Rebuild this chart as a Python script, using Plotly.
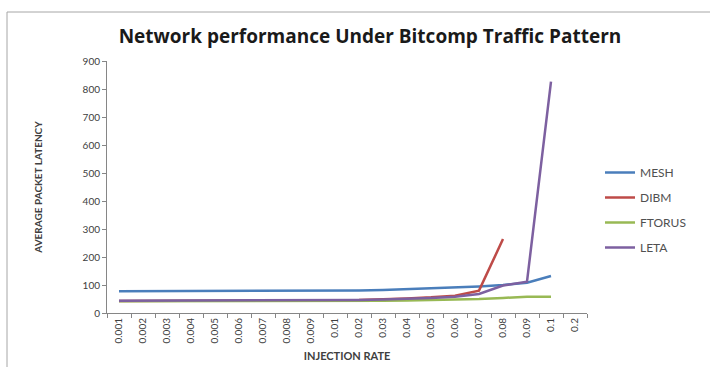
import plotly.graph_objects as go

# Injection-rate categories (kept as text so the labels read exactly as written)
rates = ["0.001", "0.002", "0.003", "0.004", "0.005", "0.006", "0.007", "0.008", "0.009",
         "0.01", "0.02", "0.03", "0.04", "0.05", "0.06", "0.07", "0.08", "0.09", "0.1", "0.2"]

# Average packet latency per topology (None = no measurement)
mesh   = [78, 78, 78, 78, 79, 79, 80, 79, 79, 79, 80, 82, 85, 90, 92, 95, 100, 108, 132, None]
dibm   = [43, 43, 43, 43, 44, 44, 44, 44, 44, 45, 46, 48, 52, 56, 62, 80, 264, None, None, None]
ftorus = [42, 42, 42, 42, 42, 43, 43, 43, 43, 43, 44, 44, 45, 46, 48, 50, 54, 58, 58, None]
leta   = [44, 44, 44, 44, 45, 45, 45, 45, 45, 45, 46, 48, 50, 54, 58, 68, 98, 112, 826, None]

y_ticks = list(range(0, 901, 100))

series = [
    ("MESH", mesh, "#4A7EBB"),
    ("DIBM", dibm, "#BE4B48"),
    ("FTORUS", ftorus, "#98B954"),
    ("LETA", leta, "#7D60A0"),
]

fig = go.Figure()
for name, vals, color in series:
    fig.add_trace(go.Scatter(
        x=rates, y=vals, name=name, mode="lines", legendgroup=name,
        line=dict(color=color, width=2.5),
        connectgaps=False,
    ))

W, H = 710, 367
L, R, T, B = 107, 123, 61, 54
pw, ph = W - L - R, H - T - B


def px_x(px):
    return (px - L) / pw


def px_y(py):
    return (H - B - py) / ph


fig.update_layout(
    width=W, height=H,
    margin=dict(l=L, r=R, t=T, b=B, autoexpand=False),
    paper_bgcolor="white", plot_bgcolor="white",
    font=dict(family="Lato, Liberation Sans, sans-serif", color="#404040"),
    title=dict(
        text="<b>Network performance Under Bitcomp Traffic Pattern</b>",
        font=dict(family="Open Sans, Lato, sans-serif", size=19, color="#1a1a1a"),
        x=px_x(370), xref="paper", xanchor="center",
        y=1 - 36 / H, yref="container", yanchor="middle",
    ),
    showlegend=True,
    legend=dict(
        x=px_x(600), y=px_y(210), xanchor="left", yanchor="middle",
        font=dict(size=12, color="#505050"),
        itemwidth=30, tracegroupgap=6,
        bgcolor="rgba(0,0,0,0)",
    ),
    xaxis=dict(
        type="category", categoryorder="array", categoryarray=rates,
        range=[-0.5, len(rates) - 0.5], automargin=False,
        tickangle=-90, tickfont=dict(size=10, color="#404040"),
        showline=True, linecolor="#868686", linewidth=1,
        ticks="outside", tickson="boundaries", ticklen=4, tickcolor="#868686",
        showgrid=False, zeroline=False,
        title=dict(text="<b>INJECTION RATE</b>", font=dict(size=11, color="#404040"), standoff=9),
    ),
    yaxis=dict(
        range=[0, 900], tickvals=y_ticks, automargin=False,
        tickfont=dict(size=10, color="#404040"),
        showline=True, linecolor="#868686", linewidth=1,
        ticks="outside", ticklen=4, tickcolor="#868686",
        showgrid=False, zeroline=False,
        title=dict(text="<b>AVERAGE PACKET LATENCY</b>", font=dict(size=10, color="#404040"), standoff=38),
    ),
    shapes=[dict(
        type="rect", xref="paper", yref="paper",
        x0=px_x(7), x1=px_x(720), y0=px_y(380), y1=px_y(12),
        line=dict(color="#A6A6A6", width=1), fillcolor="rgba(0,0,0,0)", layer="below",
    )],
)

fig.write_html("out.html")
